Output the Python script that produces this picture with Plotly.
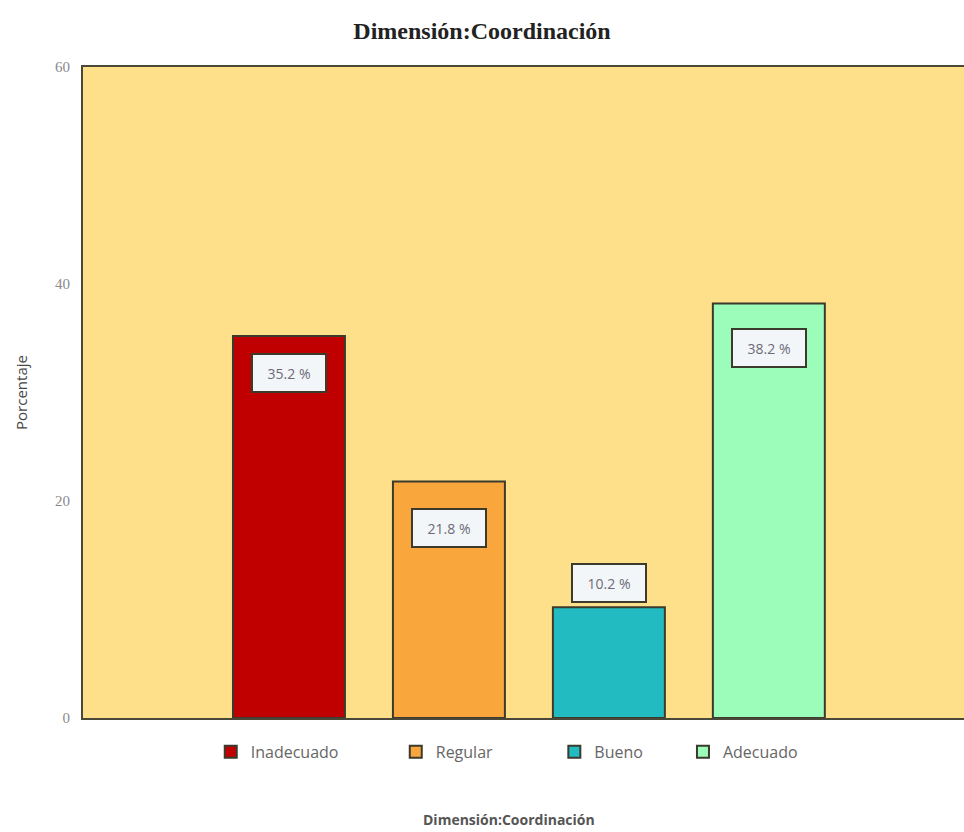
import plotly.graph_objects as go

# Frequencies per category of the "Coordinación" dimension (percent)
categorias = ["Inadecuado", "Regular", "Bueno", "Adecuado"]
porcentajes = [35.2, 21.8, 10.2, 38.2]
colores = ["#C00000", "#F9A73C", "#23BBC2", "#9CFCBA"]
# vertical offset (px) of each value label relative to its bar top
desplazamientos = [-37, -47, 24, -44]
# left edge (paper x) of each legend entry
leyenda_x = [0.145, 0.355, 0.535, 0.681]

y_ticks = [0, 20, 40, 60]

fig = go.Figure()

legend_names = ["legend", "legend2", "legend3", "legend4"]
for cat, val, col, lg in zip(categorias, porcentajes, colores, legend_names):
    fig.add_trace(go.Bar(
        x=[cat], y=[val], name=cat,
        width=0.7,
        marker=dict(color=col, line=dict(color="#3b3a2c", width=2)),
        hoverinfo="x+y",
        legend=lg,
    ))

for cat, val, dy in zip(categorias, porcentajes, desplazamientos):
    fig.add_annotation(
        x=cat, y=val, yshift=dy, xref="x", yref="y",
        text=f"{val:.1f} %", showarrow=False,
        font=dict(family="Open Sans, sans-serif", size=14, color="#6b6b78"),
        bgcolor="#F3F6F8", bordercolor="#3b3a2c", borderwidth=2,
        borderpad=8, width=56, height=20,
    )

# x-axis title, drawn under the legend
fig.add_annotation(
    x=0.4835, y=-0.156, xref="paper", yref="paper",
    xanchor="center", yanchor="middle",
    text="<b>Dimensión:Coordinación</b>", showarrow=False,
    font=dict(family="Open Sans, sans-serif", size=14, color="#555555"),
)

legend_style = dict(
    orientation="h", xanchor="left", y=-0.052, yanchor="middle",
    font=dict(family="Open Sans, sans-serif", size=16, color="#666666"),
    bgcolor="rgba(0,0,0,0)", itemclick=False, itemwidth=30,
)

fig.update_layout(
    width=964, height=832,
    margin=dict(l=83, r=0, t=67, b=114),
    paper_bgcolor="white",
    plot_bgcolor="#FFE08A",
    barmode="overlay",
    showlegend=True,
    title=dict(
        text="<b>Dimensión:Coordinación</b>",
        x=0.5, xanchor="center", y=0.963, yanchor="middle",
        font=dict(family="Liberation Serif, serif", size=24, color="#222222"),
    ),
    legend=dict(x=leyenda_x[0], **legend_style),
    legend2=dict(x=leyenda_x[1], **legend_style),
    legend3=dict(x=leyenda_x[2], **legend_style),
    legend4=dict(x=leyenda_x[3], **legend_style),
    xaxis=dict(
        type="category", range=[-1.2875, 4.22],
        showticklabels=False, ticks="", showgrid=False, zeroline=False,
        showline=True, linecolor="#4a4838", linewidth=2, mirror=True,
        fixedrange=True,
    ),
    yaxis=dict(
        range=[0, 60], tickvals=y_ticks, ticks="", showgrid=False, zeroline=False,
        showline=True, linecolor="#4a4838", linewidth=2, mirror=False,
        ticklabelstandoff=8,
        tickfont=dict(family="Liberation Serif, serif", size=15, color="#8a8a8a"),
        title=dict(text="Porcentaje", standoff=24,
                   font=dict(family="Open Sans, sans-serif", size=15, color="#444444")),
        fixedrange=True,
    ),
)

fig.write_html("out.html")
